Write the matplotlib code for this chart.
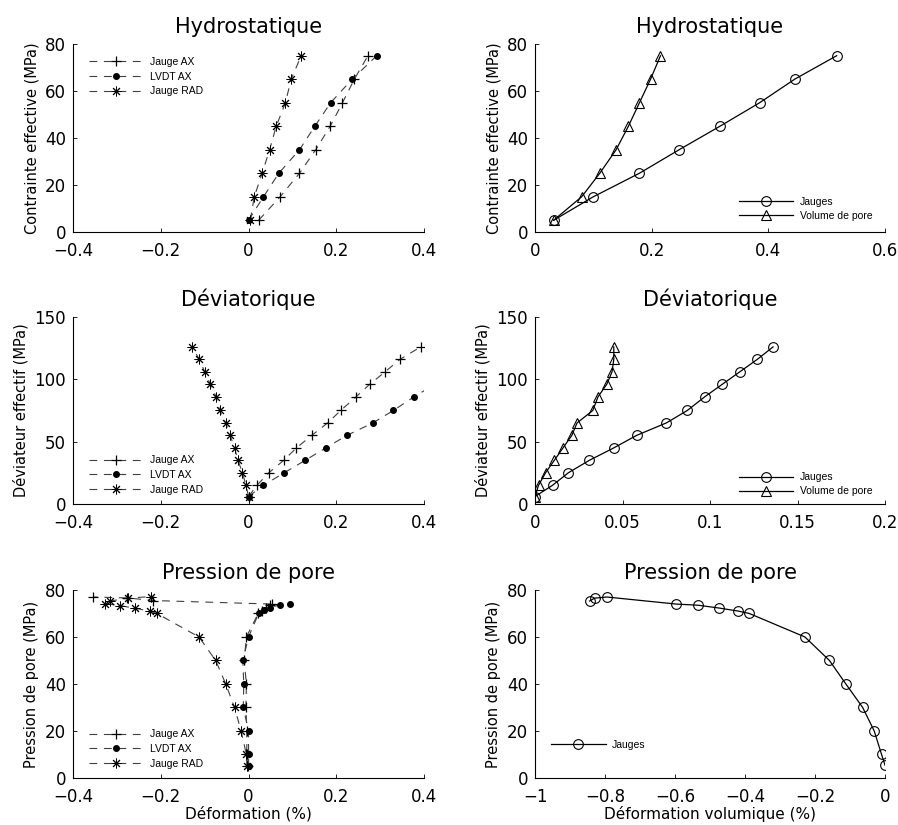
import matplotlib
matplotlib.use("Agg")
import matplotlib.pyplot as plt
import numpy as np

# --- Hydrostatique ---
hydro_p = [5, 15, 25, 35, 45, 55, 65, 75]
hydro_jauge_ax = [0.023, 0.072, 0.116, 0.153, 0.186, 0.214, 0.241, 0.272]
hydro_lvdt_ax = [0.0, 0.034, 0.069, 0.116, 0.151, 0.187, 0.236, 0.292]
hydro_jauge_rad = [0.004, 0.013, 0.031, 0.048, 0.063, 0.084, 0.097, 0.120]
hydro_jauges_vol = [0.032, 0.100, 0.179, 0.247, 0.317, 0.385, 0.445, 0.517]
hydro_pore_vol = [0.032, 0.080, 0.111, 0.139, 0.160, 0.179, 0.198, 0.215]

# --- Deviatorique ---
dev_q = [6, 15, 25, 35, 45, 55, 65, 75, 86, 96, 106, 116, 126]
dev_jauge_ax = [0.0, 0.019, 0.046, 0.080, 0.109, 0.144, 0.180, 0.210, 0.245,
                0.276, 0.311, 0.345, 0.392]
dev_lvdt_q = [6, 15, 25, 35, 45, 55, 65, 75, 86, 96]
dev_lvdt_ax = [0.0, 0.034, 0.081, 0.129, 0.176, 0.224, 0.283, 0.330, 0.377, 0.425]
dev_jauge_rad = [0.0, -0.006, -0.014, -0.024, -0.032, -0.042, -0.052, -0.066,
                 -0.074, -0.087, -0.100, -0.112, -0.129]
dev_jauges_vol = [0.0, 0.010, 0.019, 0.031, 0.045, 0.058, 0.075, 0.087, 0.097,
                  0.107, 0.117, 0.127, 0.136]
dev_pore_vol = [0.0, 0.002, 0.006, 0.011, 0.016, 0.021, 0.024, 0.033, 0.036,
                0.041, 0.044, 0.045, 0.045]

# --- Pression de pore ---
pp_ax_p = [5, 10, 20, 30, 40, 50, 60, 70, 71, 72.5, 73.5, 74, 75.5, 76.6, 77]
pp_jauge_ax = [-0.002, -0.004, -0.004, -0.006, -0.005, -0.010, -0.005, 0.022,
               0.030, 0.040, 0.048, 0.053, -0.217, -0.276, -0.354]
pp_lvdt_p = [5, 10, 20, 30, 40, 50, 60, 70, 71.3, 72.5, 73.6, 74]
pp_lvdt_ax = [0.0, 0.0, 0.0, -0.012, -0.011, -0.013, 0.0, 0.023, 0.036, 0.048,
              0.071, 0.095]
pp_rad_p = [5, 10, 20, 30, 40, 50, 60, 70, 71, 72.2, 73.3, 74.2, 75.3, 76.5, 77.2]
pp_jauge_rad = [-0.004, -0.005, -0.017, -0.032, -0.052, -0.075, -0.113, -0.209,
                -0.225, -0.258, -0.292, -0.327, -0.315, -0.275, -0.222]
pp_vol_p = [5.4, 10, 20, 30, 40, 50, 60, 70, 71, 72.3, 73.5, 74, 77, 76.5, 75.3]
pp_jauges_vol = [0.0, -0.010, -0.031, -0.064, -0.112, -0.159, -0.229, -0.388,
                 -0.419, -0.474, -0.534, -0.597, -0.795, -0.830, -0.844]

plt.rcParams["font.family"] = "DejaVu Sans"
plt.rcParams["axes.unicode_minus"] = True

fig = plt.figure(figsize=(8.98, 8.25), dpi=100)

col_left = [0.0813, 0.5958]
col_w = [0.391, 0.3898]
row_bot = [0.7188, 0.3891, 0.057]
row_h = [0.2279, 0.2267, 0.2279]

dash = dict(linestyle=(0, (7, 6)), linewidth=0.8, color="0.25")
solid = dict(linestyle="-", linewidth=0.9, color="black")
leg_font = {"family": "Liberation Sans", "size": 7.5}


def fmt(v, _pos=None):
    s = f"{v:g}"
    return s.replace("-", "\u2212")


def style(ax, title, ylabel, xlim, xticks, ylim, yticks, xlabel=None):
    ax.set_title(title, fontsize=15, pad=8)
    ax.set_ylabel(ylabel, fontsize=10.5, labelpad=4)
    if xlabel:
        ax.set_xlabel(xlabel, fontsize=11, labelpad=0)
    ax.set_xlim(*xlim)
    ax.set_ylim(*ylim)
    ax.set_xticks(xticks)
    ax.set_yticks(yticks)
    ax.xaxis.set_major_formatter(plt.FuncFormatter(fmt))
    ax.yaxis.set_major_formatter(plt.FuncFormatter(fmt))
    ax.spines["top"].set_visible(False)
    ax.spines["right"].set_visible(False)
    ax.tick_params(direction="in", length=3, labelsize=12, width=0.6)
    ax.tick_params(axis="x", pad=7)
    ax.tick_params(axis="y", pad=5)
    for s in ("left", "bottom"):
        ax.spines[s].set_linewidth(0.8)


def strain_axes(ax, x_ax, y_ax, x_lv, y_lv, x_rad, y_rad, loc, anchor):
    ax.plot(x_ax, y_ax, marker="+", ms=7, mec="black", mew=0.9, label="Jauge AX", **dash)
    ax.plot(x_lv, y_lv, marker="o", ms=4, mfc="black", mec="black", label="LVDT AX", **dash)
    ax.plot(x_rad, y_rad, marker=(8, 2, 0), ms=7, mec="black", mew=0.7,
            label="Jauge RAD", **dash)
    ax.legend(loc=loc, bbox_to_anchor=anchor, frameon=False, prop=leg_font,
              handlelength=5.2, handletextpad=0.6, labelspacing=0.45)


def vol_axes(ax, x_j, y_j, x_v, y_v, loc, anchor):
    ax.plot(x_j, y_j, marker="o", ms=7, mfc="none", mec="black", mew=0.8,
            label="Jauges", **solid)
    ax.plot(x_v, y_v, marker="^", ms=7, mfc="none", mec="black", mew=0.8,
            label="Volume de pore", **solid)
    ax.legend(loc=loc, bbox_to_anchor=anchor, frameon=False, prop=leg_font,
              handlelength=5.2, handletextpad=0.6, labelspacing=0.4)


axes = [[fig.add_axes([col_left[c], row_bot[r], col_w[c], row_h[r]]) for c in range(2)]
        for r in range(3)]

# Row 1
ax = axes[0][0]
strain_axes(ax, hydro_jauge_ax, hydro_p, hydro_lvdt_ax, hydro_p,
            hydro_jauge_rad, hydro_p, "upper left", (0.02, 0.98))
style(ax, "Hydrostatique", "Contrainte effective (MPa)", (-0.4, 0.4),
      [-0.4, -0.2, 0, 0.2, 0.4], (0, 80), [0, 20, 40, 60, 80])

ax = axes[0][1]
vol_axes(ax, hydro_jauges_vol, hydro_p, hydro_pore_vol, hydro_p,
         "lower right", (0.99, 0.01))
style(ax, "Hydrostatique", "Contrainte effective (MPa)", (0, 0.6),
      [0, 0.2, 0.4, 0.6], (0, 80), [0, 20, 40, 60, 80])

# Row 2
ax = axes[1][0]
strain_axes(ax, dev_jauge_ax, dev_q, dev_lvdt_ax, dev_lvdt_q,
            dev_jauge_rad, dev_q, "lower left", (0.02, 0.0))
style(ax, "Déviatorique", "Déviateur effectif (MPa)", (-0.4, 0.4),
      [-0.4, -0.2, 0, 0.2, 0.4], (0, 150), [0, 50, 100, 150])

ax = axes[1][1]
vol_axes(ax, dev_jauges_vol, dev_q, dev_pore_vol, dev_q,
         "lower right", (0.99, -0.01))
style(ax, "Déviatorique", "Déviateur effectif (MPa)", (0, 0.2),
      [0, 0.05, 0.1, 0.15, 0.2], (0, 150), [0, 50, 100, 150])

# Row 3
ax = axes[2][0]
strain_axes(ax, pp_jauge_ax, pp_ax_p, pp_lvdt_ax, pp_lvdt_p,
            pp_jauge_rad, pp_rad_p, "lower left", (0.02, 0.0))
style(ax, "Pression de pore", "Pression de pore (MPa)", (-0.4, 0.4),
      [-0.4, -0.2, 0, 0.2, 0.4], (0, 80), [0, 20, 40, 60, 80],
      xlabel="Déformation (%)")

ax = axes[2][1]
ax.plot(pp_jauges_vol, pp_vol_p, marker="o", ms=7, mfc="none", mec="black",
        mew=0.8, label="Jauges", **solid)
ax.legend(loc="lower left", bbox_to_anchor=(0.02, 0.1), frameon=False,
          prop=leg_font, handlelength=5.2, handletextpad=0.6)
style(ax, "Pression de pore", "Pression de pore (MPa)", (-1, 0),
      [-1, -0.8, -0.6, -0.4, -0.2, 0], (0, 80), [0, 20, 40, 60, 80],
      xlabel="Déformation volumique (%)")

fig.savefig("out.png", dpi=100)
